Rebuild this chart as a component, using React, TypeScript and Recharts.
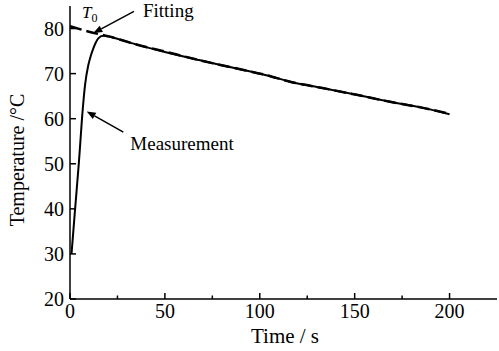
import { LineChart, Line, XAxis, YAxis, ReferenceLine, ReferenceDot } from 'recharts';

// fitted cooling curve
const fitTime = [0, 10, 21, 33, 50, 68, 86, 104, 116, 133, 151, 168, 186, 200];
const fitTemp = [80.5, 79.3, 78.2, 76.7, 74.9, 73.0, 71.3, 69.6, 68.2, 66.8, 65.3, 63.8, 62.4, 61.1];

// measured temperature
const measTime = [0.8, 2.5, 4.7, 6.7, 7.9, 9.6, 11, 12.3, 13.6, 14.9, 17.4, 21, 26, 33, 50, 68, 86, 104, 116, 133, 151, 168, 186, 200];
const measTemp = [30, 39, 50.4, 62, 67.4, 71.8, 74, 75.6, 76.9, 77.8, 78.4, 78.2, 77.6, 76.7, 74.8, 73.0, 71.3, 69.6, 68.2, 66.8, 65.3, 63.8, 62.4, 61.0];

const xTicks = [0, 25, 50, 75, 100, 125, 150, 175, 200];
const xLabels = [0, 50, 100, 150, 200];
const yTicks = [20, 25, 30, 35, 40, 45, 50, 55, 60, 65, 70, 75, 80];
const yLabels = [20, 30, 40, 50, 60, 70, 80];

const fitData = fitTime.map((t, i) => ({ t, temp: fitTemp[i] }));
const measData = measTime.map((t, i) => ({ t, temp: measTemp[i] }));

const serif = { fontFamily: "'Liberation Serif', 'Times New Roman', serif" };

const XTick = (props: any) => {
  const { x, y, payload } = props;
  const axisY = y - 4;
  const major = xLabels.includes(payload.value);
  return (
    <g>
      <line x1={x} x2={x} y1={axisY} y2={axisY - (major ? 6 : 3.5)} stroke="#000" strokeWidth={1.5} />
      {major && (
        <text x={x} y={axisY + 19} textAnchor="middle" fontSize={20} style={serif} fill="#000">
          {payload.value}
        </text>
      )}
    </g>
  );
};

const YTick = (props: any) => {
  const { x, y, payload } = props;
  const axisX = x + 5;
  const major = yLabels.includes(payload.value);
  return (
    <g>
      <line x1={axisX} x2={axisX + (major ? 6 : 3.5)} y1={y} y2={y} stroke="#000" strokeWidth={1.5} />
      {major && (
        <text x={x - 1} y={y + 7} textAnchor="end" fontSize={20} style={serif} fill="#000">
          {payload.value}
        </text>
      )}
    </g>
  );
};

const arrow = (label: string, dx: number, dy: number) => (props: any) => {
  const { x1, y1, x2, y2 } = props;
  const ang = Math.atan2(y2 - y1, x2 - x1);
  const L = 9;
  const W = 3.5;
  const bx = x2 - L * Math.cos(ang);
  const by = y2 - L * Math.sin(ang);
  const px = -Math.sin(ang) * W;
  const py = Math.cos(ang) * W;
  return (
    <g>
      <line x1={x1} y1={y1} x2={bx} y2={by} stroke="#000" strokeWidth={1.5} />
      <polygon points={`${x2},${y2} ${bx + px},${by + py} ${bx - px},${by - py}`} fill="#000" />
      <text x={x1 + dx} y={y1 + dy} fontSize={19} style={serif} fill="#000">
        {label}
      </text>
    </g>
  );
};

const T0 = (props: any) => (
  <text x={props.cx} y={props.cy} fontSize={17} style={serif} fontStyle="italic" fill="#000">
    T
    <tspan fontSize={12} dy={4} fontStyle="normal">0</tspan>
  </text>
);

export default function App() {
  return (
    <div style={{ position: 'absolute', left: 0, top: 0, background: '#fff' }}>
      <LineChart width={499} height={351} margin={{ top: 6, right: 2, bottom: 0, left: 0 }}>
        <XAxis
          type="number"
          dataKey="t"
          domain={[0, 225]}
          ticks={xTicks}
          tick={<XTick />}
          tickLine={false}
          tickSize={0}
          tickMargin={4}
          height={52}
          axisLine={{ stroke: '#000', strokeWidth: 1.5 }}
          allowDuplicatedCategory={false}
          label={() => (
            <text x={285} y={343} textAnchor="middle" fontSize={21} style={serif} fill="#000">
              Time / s
            </text>
          )}
        />
        <YAxis
          type="number"
          domain={[20, 85]}
          ticks={yTicks}
          tick={<YTick />}
          tickLine={false}
          tickSize={0}
          tickMargin={5}
          width={70}
          axisLine={{ stroke: '#000', strokeWidth: 1.5 }}
          label={() => (
            <text x={24} y={160} textAnchor="middle" fontSize={20} style={serif} fill="#000" transform="rotate(-90 24 160)">
              Temperature /°C
            </text>
          )}
        />
        <Line data={measData} dataKey="temp" type="monotone" stroke="#000" strokeWidth={2} dot={false} isAnimationActive={false} />
        <Line data={fitData} dataKey="temp" type="monotone" stroke="#000" strokeWidth={2.5} strokeDasharray="12 5" dot={false} isAnimationActive={false} />
        <ReferenceLine segment={[{ x: 33.7, y: 83.8 }, { x: 12.3, y: 79.0 }]} ifOverflow="visible" shape={arrow('Fitting', 9, 6)} />
        <ReferenceLine segment={[{ x: 28.1, y: 57.0 }, { x: 8.8, y: 61.6 }]} ifOverflow="visible" shape={arrow('Measurement', 7, 18)} />
        <ReferenceDot x={6.3} y={82.4} r={0} ifOverflow="visible" shape={T0} />
      </LineChart>
    </div>
  );
}
